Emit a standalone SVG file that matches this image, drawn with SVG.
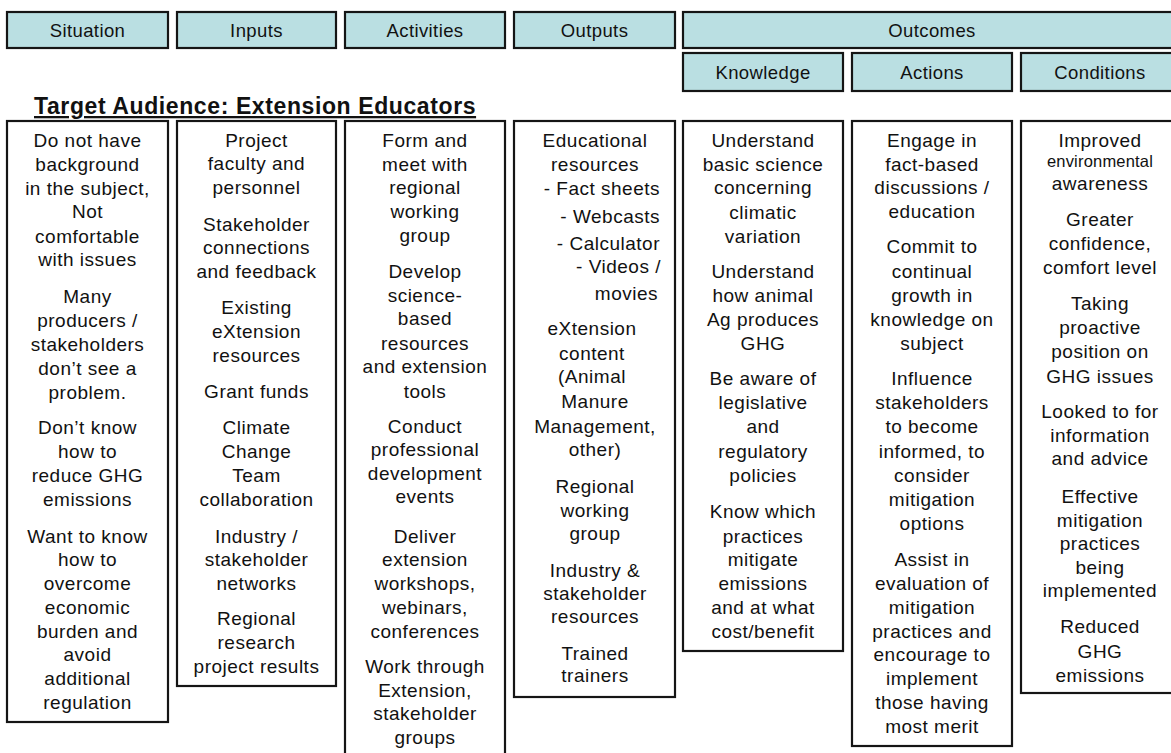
<svg xmlns="http://www.w3.org/2000/svg" width="1171" height="753" viewBox="0 0 1171 753">
  <style>
    .hdr { fill: #badfe2; stroke: #151515; stroke-width: 2.2; }
    .box { fill: #ffffff; stroke: #151515; stroke-width: 2.2; }
    text { font-family: "Liberation Sans", Arial, sans-serif; fill: #111111; }
    .h { font-size: 18.5px; text-anchor: middle; letter-spacing: 0.4px; }
    .t { font-size: 19px; text-anchor: middle; letter-spacing: 0.5px; }
    .r { font-size: 19px; text-anchor: end; letter-spacing: 0.5px; }
    .s { font-size: 16.5px; text-anchor: middle; letter-spacing: 0.2px; }
    .title { font-size: 23px; font-weight: bold; text-decoration: underline; letter-spacing: 0.6px; }
  </style>
  <rect width="1171" height="753" fill="#ffffff"/>

  <!-- column headings -->
  <g id="headers">
    <g id="h-situation"><rect class="hdr" x="7" y="12" width="161" height="36"/><text class="h" x="87.5" y="37">Situation</text></g>
    <g id="h-inputs"><rect class="hdr" x="177" y="12" width="159" height="36"/><text class="h" x="256.5" y="37">Inputs</text></g>
    <g id="h-activities"><rect class="hdr" x="345" y="12" width="160" height="36"/><text class="h" x="425" y="37">Activities</text></g>
    <g id="h-outputs"><rect class="hdr" x="514" y="12" width="161" height="36"/><text class="h" x="594.5" y="37">Outputs</text></g>
    <g id="h-outcomes"><rect class="hdr" x="683" y="12" width="497" height="36"/><text class="h" x="932" y="37">Outcomes</text></g>
    <g id="h-knowledge"><rect class="hdr" x="683" y="53" width="160" height="38"/><text class="h" x="763" y="79">Knowledge</text></g>
    <g id="h-actions"><rect class="hdr" x="852" y="53" width="160" height="38"/><text class="h" x="932" y="79">Actions</text></g>
    <g id="h-conditions"><rect class="hdr" x="1021" y="53" width="160" height="38"/><text class="h" x="1100" y="79">Conditions</text></g>
  </g>

  <text id="audience" class="title" x="34" y="114">Target Audience: Extension Educators</text>

  <g id="connectors"></g>

  <g id="situation">
    <rect class="box" x="7" y="121" width="161" height="601"/>
    <text class="t" x="87.5" y="147">Do not have</text>
    <text class="t" x="87.5" y="171">background</text>
    <text class="t" x="87.5" y="195">in the subject,</text>
    <text class="t" x="87.5" y="218">Not</text>
    <text class="t" x="87.5" y="243">comfortable</text>
    <text class="t" x="87.5" y="266">with issues</text>
    <text class="t" x="87.5" y="303">Many</text>
    <text class="t" x="87.5" y="327">producers /</text>
    <text class="t" x="87.5" y="351">stakeholders</text>
    <text class="t" x="87.5" y="375">don’t see a</text>
    <text class="t" x="87.5" y="399">problem.</text>
    <text class="t" x="87.5" y="434">Don’t know</text>
    <text class="t" x="87.5" y="458">how to</text>
    <text class="t" x="87.5" y="482">reduce GHG</text>
    <text class="t" x="87.5" y="506">emissions</text>
    <text class="t" x="87.5" y="543">Want to know</text>
    <text class="t" x="87.5" y="566">how to</text>
    <text class="t" x="87.5" y="590">overcome</text>
    <text class="t" x="87.5" y="614">economic</text>
    <text class="t" x="87.5" y="638">burden and</text>
    <text class="t" x="87.5" y="661">avoid</text>
    <text class="t" x="87.5" y="685">additional</text>
    <text class="t" x="87.5" y="709">regulation</text>
  </g>

  <g id="inputs">
    <rect class="box" x="177" y="121" width="159" height="565"/>
    <text class="t" x="256.5" y="147">Project</text>
    <text class="t" x="256.5" y="170">faculty and</text>
    <text class="t" x="256.5" y="194">personnel</text>
    <text class="t" x="256.5" y="231">Stakeholder</text>
    <text class="t" x="256.5" y="254">connections</text>
    <text class="t" x="256.5" y="278">and feedback</text>
    <text class="t" x="256.5" y="314">Existing</text>
    <text class="t" x="256.5" y="338">eXtension</text>
    <text class="t" x="256.5" y="362">resources</text>
    <text class="t" x="256.5" y="398">Grant funds</text>
    <text class="t" x="256.5" y="434">Climate</text>
    <text class="t" x="256.5" y="458">Change</text>
    <text class="t" x="256.5" y="482">Team</text>
    <text class="t" x="256.5" y="506">collaboration</text>
    <text class="t" x="256.5" y="543">Industry /</text>
    <text class="t" x="256.5" y="566">stakeholder</text>
    <text class="t" x="256.5" y="590">networks</text>
    <text class="t" x="256.5" y="625">Regional</text>
    <text class="t" x="256.5" y="649">research</text>
    <text class="t" x="256.5" y="673">project results</text>
  </g>

  <g id="activities">
    <rect class="box" x="345" y="121" width="160" height="645"/>
    <text class="t" x="425" y="147">Form and</text>
    <text class="t" x="425" y="171">meet with</text>
    <text class="t" x="425" y="194">regional</text>
    <text class="t" x="425" y="218">working</text>
    <text class="t" x="425" y="242">group</text>
    <text class="t" x="425" y="278">Develop</text>
    <text class="t" x="425" y="302">science-</text>
    <text class="t" x="425" y="325">based</text>
    <text class="t" x="425" y="350">resources</text>
    <text class="t" x="425" y="373">and extension</text>
    <text class="t" x="425" y="398">tools</text>
    <text class="t" x="425" y="433">Conduct</text>
    <text class="t" x="425" y="456">professional</text>
    <text class="t" x="425" y="480">development</text>
    <text class="t" x="425" y="503">events</text>
    <text class="t" x="425" y="543">Deliver</text>
    <text class="t" x="425" y="566">extension</text>
    <text class="t" x="425" y="590">workshops,</text>
    <text class="t" x="425" y="614">webinars,</text>
    <text class="t" x="425" y="638">conferences</text>
    <text class="t" x="425" y="673">Work through</text>
    <text class="t" x="425" y="697">Extension,</text>
    <text class="t" x="425" y="720">stakeholder</text>
    <text class="t" x="425" y="744">groups</text>
  </g>

  <g id="outputs">
    <rect class="box" x="514" y="121" width="161" height="576"/>
    <text class="t" x="595" y="147">Educational</text>
    <text class="t" x="595" y="171">resources</text>
    <text class="r" x="660" y="195">- Fact sheets</text>
    <text class="r" x="660" y="223">- Webcasts</text>
    <text class="r" x="660" y="250">- Calculator</text>
    <text class="r" x="661" y="273">- Videos /</text>
    <text class="r" x="658" y="300">movies</text>
    <text class="t" x="592" y="335">eXtension</text>
    <text class="t" x="592" y="360">content</text>
    <text class="t" x="592" y="383">(Animal</text>
    <text class="t" x="595" y="408">Manure</text>
    <text class="t" x="595" y="433">Management,</text>
    <text class="t" x="595" y="456">other)</text>
    <text class="t" x="595" y="493">Regional</text>
    <text class="t" x="595" y="517">working</text>
    <text class="t" x="595" y="540">group</text>
    <text class="t" x="595" y="577">Industry &amp;</text>
    <text class="t" x="595" y="600">stakeholder</text>
    <text class="t" x="595" y="623">resources</text>
    <text class="t" x="595" y="660">Trained</text>
    <text class="t" x="595" y="682">trainers</text>
  </g>

  <g id="knowledge">
    <rect class="box" x="683" y="121" width="160" height="530"/>
    <text class="t" x="763" y="147">Understand</text>
    <text class="t" x="763" y="171">basic science</text>
    <text class="t" x="763" y="194">concerning</text>
    <text class="t" x="763" y="219">climatic</text>
    <text class="t" x="763" y="243">variation</text>
    <text class="t" x="763" y="278">Understand</text>
    <text class="t" x="763" y="302">how animal</text>
    <text class="t" x="763" y="326">Ag produces</text>
    <text class="t" x="763" y="350">GHG</text>
    <text class="t" x="763" y="385">Be aware of</text>
    <text class="t" x="763" y="409">legislative</text>
    <text class="t" x="763" y="433">and</text>
    <text class="t" x="763" y="458">regulatory</text>
    <text class="t" x="763" y="482">policies</text>
    <text class="t" x="763" y="518">Know which</text>
    <text class="t" x="763" y="543">practices</text>
    <text class="t" x="763" y="566">mitigate</text>
    <text class="t" x="763" y="590">emissions</text>
    <text class="t" x="763" y="614">and at what</text>
    <text class="t" x="763" y="638">cost/benefit</text>
  </g>

  <g id="actions">
    <rect class="box" x="852" y="121" width="160" height="625"/>
    <text class="t" x="932" y="147">Engage in</text>
    <text class="t" x="932" y="171">fact-based</text>
    <text class="t" x="932" y="194">discussions /</text>
    <text class="t" x="932" y="218">education</text>
    <text class="t" x="932" y="253">Commit to</text>
    <text class="t" x="932" y="278">continual</text>
    <text class="t" x="932" y="302">growth in</text>
    <text class="t" x="932" y="326">knowledge on</text>
    <text class="t" x="932" y="350">subject</text>
    <text class="t" x="932" y="385">Influence</text>
    <text class="t" x="932" y="409">stakeholders</text>
    <text class="t" x="932" y="433">to become</text>
    <text class="t" x="932" y="458">informed, to</text>
    <text class="t" x="932" y="482">consider</text>
    <text class="t" x="932" y="506">mitigation</text>
    <text class="t" x="932" y="530">options</text>
    <text class="t" x="932" y="566">Assist in</text>
    <text class="t" x="932" y="590">evaluation of</text>
    <text class="t" x="932" y="614">mitigation</text>
    <text class="t" x="932" y="638">practices and</text>
    <text class="t" x="932" y="661">encourage to</text>
    <text class="t" x="932" y="685">implement</text>
    <text class="t" x="932" y="709">those having</text>
    <text class="t" x="932" y="733">most merit</text>
  </g>

  <g id="conditions">
    <rect class="box" x="1021" y="121" width="160" height="572"/>
    <text class="t" x="1100" y="147">Improved</text>
    <text class="s" x="1100" y="167">environmental</text>
    <text class="t" x="1100" y="190">awareness</text>
    <text class="t" x="1100" y="226">Greater</text>
    <text class="t" x="1100" y="250">confidence,</text>
    <text class="t" x="1100" y="274">comfort level</text>
    <text class="t" x="1100" y="310">Taking</text>
    <text class="t" x="1100" y="334">proactive</text>
    <text class="t" x="1100" y="358">position on</text>
    <text class="t" x="1100" y="383">GHG issues</text>
    <text class="t" x="1100" y="418">Looked to for</text>
    <text class="t" x="1100" y="442">information</text>
    <text class="t" x="1100" y="465">and advice</text>
    <text class="t" x="1100" y="503">Effective</text>
    <text class="t" x="1100" y="527">mitigation</text>
    <text class="t" x="1100" y="550">practices</text>
    <text class="t" x="1100" y="574">being</text>
    <text class="t" x="1100" y="597">implemented</text>
    <text class="t" x="1100" y="633">Reduced</text>
    <text class="t" x="1100" y="658">GHG</text>
    <text class="t" x="1100" y="682">emissions</text>
  </g>
</svg>
